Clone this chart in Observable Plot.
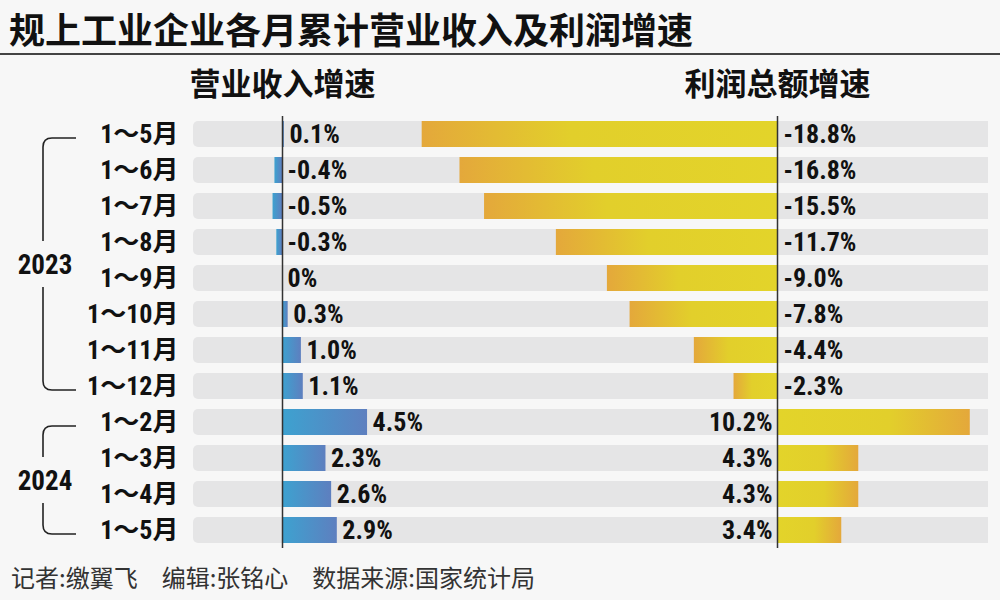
<!DOCTYPE html>
<html><head><meta charset="utf-8">
<script src="https://cdn.jsdelivr.net/npm/d3@7"></script>
<script src="https://cdn.jsdelivr.net/npm/@observablehq/plot@0.6"></script>
<style>
body{margin:0;background:#f7f7f7;width:1000px;height:600px;overflow:hidden;font-family:"Noto Sans CJK SC",sans-serif;position:relative;}
#title{position:absolute;left:9px;top:2px;font-size:36px;font-weight:700;color:#111;white-space:nowrap;}
#rule{position:absolute;left:0;top:53px;width:1000px;height:2px;background:#444;}
#chart{position:absolute;left:0;top:56px;}
#footer{position:absolute;left:11px;top:559px;font-size:24px;color:#333;white-space:nowrap;}
#footer span{margin-right:24px;}
</style></head>
<body>
<div id="title">规上工业企业各月累计营业收入及利润增速</div>
<div id="rule"></div>
<div id="chart"></div>
<div id="footer"><span>记者:缴翼飞</span><span>编辑:张铭心</span><span>数据来源:国家统计局</span></div>
<script>
// ---- data ----
const years = ["2023","2023","2023","2023","2023","2023","2023","2023","2024","2024","2024","2024"];
const months = ["1～5月","1～6月","1～7月","1～8月","1～9月","1～10月","1～11月","1～12月","1～2月","1～3月","1～4月","1～5月"];
const revenue = [0.1,-0.4,-0.5,-0.3,0,0.3,1.0,1.1,4.5,2.3,2.6,2.9];
const profit = [-18.8,-16.8,-15.5,-11.7,-9.0,-7.8,-4.4,-2.3,10.2,4.3,4.3,3.4];
const headers = ["营业收入增速","利润总额增速"];
const yearGroups = ["2023","2024"];

// ---- layout constants (pixels) ----
const PX = 18.9;            // pixels per percentage point
const LEFT = 193, RIGHT = 988, REV0 = 282, PROF0 = 777;
const XMIN = -(REV0 - LEFT) / PX;
const XMAX = (RIGHT - REV0) / PX;
const OFF = (PROF0 - REV0) / PX;   // profit panel zero, in % units

const NUM = '"Liberation Sans Narrow","Roboto Condensed","Noto Sans CJK SC",sans-serif';
const fmt = v => v === 0 ? "0%" : v.toFixed(1) + "%";

const rows = months.map((m, i) => ({key: years[i] + "|" + m, year: years[i], month: m, rev: revenue[i], prof: profit[i]}));

function defs() {
  const d = d3.create("svg:defs");
  const grad = (id, stops) => {
    const g = d.append("linearGradient").attr("id", id).attr("x1", 0).attr("x2", 1).attr("y1", 0).attr("y2", 0);
    stops.forEach(([o, c]) => g.append("stop").attr("offset", o).attr("stop-color", c));
  };
  grad("revGrad", [[0, "#3da2d0"], [1, "#5e7fbf"]]);
  grad("profNeg", [[0, "#e4a83b"], [0.42, "#e2cf2b"], [1, "#e3d42a"]]);
  grad("profPos", [[0, "#e3d42a"], [0.58, "#e2cf2b"], [1, "#e4a83b"]]);
  return d.node();
}

function brackets(index, scales) {
  const g = d3.create("svg:g").attr("fill", "none");
  const bw = scales.y.bandwidth ? scales.y.bandwidth() : 0;
  yearGroups.forEach(yr => {
    const rs = rows.filter(r => r.year === yr);
    const yTop = scales.y(rs[0].key) + bw / 2 + 4;
    const yBot = scales.y(rs[rs.length - 1].key) + bw / 2 + 4;
    const yMid = (yTop + yBot) / 2;
    const xv = 43, xe = 76, r = 9, gap = 23;
    g.append("path")
      .attr("d", `M${xe},${yTop}H${xv + r}Q${xv},${yTop} ${xv},${yTop + r}V${yMid - gap}M${xv},${yMid + gap}V${yBot - r}Q${xv},${yBot} ${xv + r},${yBot}H${xe}`)
      .attr("stroke", "#222").attr("stroke-width", 1.6);
    g.append("text").attr("x", xv + 2).attr("y", yMid).attr("dy", "0.36em")
      .attr("text-anchor", "middle").attr("fill", "#111")
      .attr("font-family", NUM).attr("font-weight", 700).attr("font-size", 27)
      .text(yr);
  });
  return g.node();
}

const plot = Plot.plot({
  width: 1000,
  height: 496,
  marginLeft: LEFT,
  marginRight: 1000 - RIGHT,
  marginTop: 60,
  marginBottom: 4,
  style: {background: "transparent", fontFamily: NUM, overflow: "visible"},
  x: {domain: [XMIN, XMAX], axis: null},
  y: {domain: rows.map(d => d.key), paddingInner: 0.28, paddingOuter: 0, axis: null},
  marks: [
    defs,
    Plot.barX(rows, {x1: XMIN, x2: XMAX + 2, y: "key", fill: "#e5e5e6", rx: 5, clip: true}),
    Plot.barX(rows, {x1: 0, x2: "rev", y: "key", fill: "url(#revGrad)"}),
    Plot.barX(rows.filter(d => d.prof < 0), {x1: d => OFF + d.prof, x2: OFF, y: "key", fill: "url(#profNeg)"}),
    Plot.barX(rows.filter(d => d.prof >= 0), {x1: OFF, x2: d => OFF + d.prof, y: "key", fill: "url(#profPos)"}),
    Plot.ruleX([0, OFF], {stroke: "#333", strokeWidth: 1.5}),
    Plot.text(rows, {x: d => Math.max(d.rev, 0), y: "key", text: d => fmt(d.rev), textAnchor: "start", dx: 5, fontSize: 26, fontWeight: 700, fill: "#111"}),
    Plot.text(rows.filter(d => d.prof < 0), {x: OFF, y: "key", text: d => fmt(d.prof), textAnchor: "start", dx: 6, fontSize: 26, fontWeight: 700, fill: "#111"}),
    Plot.text(rows.filter(d => d.prof >= 0), {x: OFF, y: "key", text: d => fmt(d.prof), textAnchor: "end", dx: -5, fontSize: 26, fontWeight: 700, fill: "#111"}),
    Plot.text(rows, {frameAnchor: "left", y: "key", text: "month", textAnchor: "end", dx: -15, fontSize: 26, fontWeight: 700, fill: "#111"}),
    Plot.text(headers, {x: (d, i) => i === 0 ? 0 : OFF, frameAnchor: "top", lineAnchor: "middle", dy: -31, text: d => d, fontSize: 31, fontWeight: 700, fill: "#111", fontFamily: '"Noto Sans CJK SC",sans-serif'}),
    brackets
  ]
});
document.getElementById("chart").appendChild(plot);
</script>
</body></html>
